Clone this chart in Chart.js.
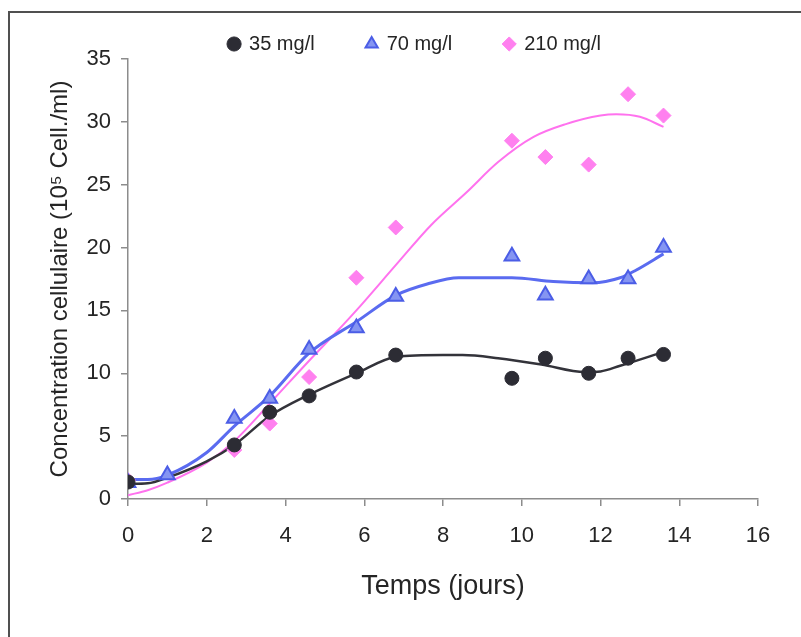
<!DOCTYPE html>
<html>
<head>
<meta charset="utf-8">
<script src="https://cdn.jsdelivr.net/npm/chart.js@4.4.1/dist/chart.umd.min.js"></script>
<style>
html,body{margin:0;padding:0;background:#fff;overflow:hidden}
#wrap{position:relative;width:801px;height:637px}
</style>
</head>
<body>
<div id="wrap"><canvas id="c" width="801" height="637"></canvas></div>
<script>
// ---- data ----
const seriesNames = ['35 mg/l', '70 mg/l', '210 mg/l'];
const days = [0, 2.7, 3.6, 4.6, 5.8, 6.8, 9.75, 10.6, 11.7, 12.7, 13.6];
const conc35 = [1.35, 4.3, 6.9, 8.2, 10.1, 11.45, 9.6, 11.2, 10.0, 11.2, 11.5];
const days70 = [0, 1, 2.7, 3.6, 4.6, 5.8, 6.8, 9.75, 10.6, 11.7, 12.7, 13.6];
const conc70 = [1.3, 1.9, 6.4, 8.0, 11.9, 13.6, 16.1, 19.3, 16.2, 17.5, 17.5, 20.0];
const conc210 = [1.5, 3.9, 6.0, 9.7, 17.6, 21.6, 28.5, 27.2, 26.6, 32.2, 30.5];

// trend curves
const trend35X = [0, 0.5, 1, 2, 2.7, 3.6, 4.6, 5.8, 6.8, 8, 8.5, 9.4, 10.5, 11.6, 12, 12.5, 13.6];
const trend35Y = [1.2, 1.25, 1.7, 3.0, 4.3, 6.6, 8.3, 10.0, 11.3, 11.45, 11.45, 11.2, 10.7, 10.1, 10.15, 10.6, 11.7];
const trend70X = [0, 0.5, 1, 2, 2.7, 3.6, 4.6, 5.8, 6.8, 7.6, 8.4, 9.75, 10.8, 11.8, 12.5, 12.9, 13.6];
const trend70Y = [1.55, 1.55, 1.9, 3.7, 5.8, 8.2, 11.6, 14.1, 16.2, 17.1, 17.6, 17.6, 17.3, 17.2, 17.6, 18.2, 19.5];
const trend210X = [0, 0.5, 1, 2, 2.7, 3.6, 4.6, 5.3, 5.8, 6.8, 7.7, 8.6, 9.4, 10.3, 11.1, 12.0, 12.4, 13.0, 13.6];
const trend210Y = [0.3, 0.7, 1.3, 2.9, 4.6, 7.6, 11.0, 13.3, 15.0, 18.6, 21.8, 24.4, 26.8, 28.8, 29.8, 30.5, 30.6, 30.4, 29.6];

const xTicks = [0, 2, 4, 6, 8, 10, 12, 14, 16];
const yTicks = [0, 5, 10, 15, 20, 25, 30, 35];
const xTitle = 'Temps (jours)';
const yTitle = 'Concentration cellulaire (10\u2075 Cell./ml)';

// ---- helpers ----
const pts = (xs, ys) => xs.map((x, i) => ({x, y: ys[i]}));
const FONT = "'Liberation Sans', Arial, sans-serif";
const TXT = '#252525';
const AX = '#8c8c8c';

const LEGEND_H = 59, LEGEND_DX = 30, LEGEND_DY = -18;
const legendTweak = {
  id: 'legendTweak',
  beforeLayout(chart) {
    const lg = chart.legend;
    if (!lg || lg._tw) return;
    lg._tw = true;
    const fit = lg.fit.bind(lg);
    lg.fit = function () { fit(); this.height = LEGEND_H; };
    const draw = lg.draw.bind(lg);
    lg.draw = function () {
      const t = this.top, l = this.left, r = this.right;
      this.top = t + LEGEND_DY; this.left = l + LEGEND_DX; this.right = r + LEGEND_DX;
      draw();
      this.top = t; this.left = l; this.right = r;
    };
  }
};
const frame = {
  id: 'frame',
  beforeDraw(chart) {
    const c = chart.ctx; c.save();
    c.strokeStyle = '#505050'; c.lineWidth = 2;
    c.strokeRect(9, 12, 850, 700);
    c.restore();
  }
};

new Chart(document.getElementById('c'), {
  type: 'scatter',
  data: {
    datasets: [
      {label: seriesNames[0], data: pts(days, conc35), pointStyle: 'circle', pointRadius: 7,
       backgroundColor: '#2c2c34', borderColor: '#2c2c34', borderWidth: 1, showLine: false},
      {label: seriesNames[1], data: pts(days70, conc70), pointStyle: 'triangle', pointRadius: 8.5,
       backgroundColor: '#8595f2', borderColor: '#4b5de6', borderWidth: 2, showLine: false},
      {label: seriesNames[2], data: pts(days, conc210), pointStyle: 'rectRot', pointRadius: 7.5,
       backgroundColor: '#ff80ef', borderColor: '#ff80ef', borderWidth: 1, showLine: false},
      {label: 'trend35', data: pts(trend35X, trend35Y), showLine: true, pointRadius: 0,
       borderColor: '#33333a', borderWidth: 2.5, cubicInterpolationMode: 'monotone'},
      {label: 'trend70', data: pts(trend70X, trend70Y), showLine: true, pointRadius: 0,
       borderColor: '#5a6bf0', borderWidth: 3, cubicInterpolationMode: 'monotone'},
      {label: 'trend210', data: pts(trend210X, trend210Y), showLine: true, pointRadius: 0,
       borderColor: '#ff72ee', borderWidth: 2, cubicInterpolationMode: 'monotone'}
    ]
  },
  options: {
    responsive: false,
    animation: false,
    devicePixelRatio: 1,
    layout: {padding: {left: 12, right: 43, top: 0, bottom: 8}},
    plugins: {
      tooltip: {enabled: false},
      legend: {
        position: 'top',
        align: 'center',
        labels: {
          usePointStyle: true, boxWidth: 10, boxHeight: 10, padding: 52,
          color: TXT, font: {family: FONT, size: 20},
          filter: (item) => seriesNames.includes(item.text)
        }
      }
    },
    scales: {
      x: {
        type: 'linear', min: 0, max: 16,
        afterBuildTicks: (s) => { s.ticks = xTicks.map(v => ({value: v})); },
        afterFit: (s) => { s.height = 130; },
        ticks: {color: TXT, font: {family: FONT, size: 22}, padding: 17},
        grid: {display: true, drawOnChartArea: false, drawTicks: true, tickLength: 7, color: AX, lineWidth: 1.5},
        border: {display: true, color: AX, width: 1.5},
        title: {display: true, text: xTitle, color: TXT, font: {family: FONT, size: 27}, padding: {top: 4, bottom: 26}}
      },
      y: {
        type: 'linear', min: 0, max: 35,
        afterBuildTicks: (s) => { s.ticks = yTicks.map(v => ({value: v})); },
        afterFit: (s) => { s.width = 116; },
        ticks: {color: TXT, font: {family: FONT, size: 22}, padding: 10},
        grid: {display: true, drawOnChartArea: false, drawTicks: true, tickLength: 7, color: AX, lineWidth: 1.5},
        border: {display: true, color: AX, width: 1.5},
        title: {display: true, text: yTitle, color: TXT, font: {family: FONT, size: 24}, padding: {top: 34, bottom: 4}}
      }
    }
  },
  plugins: [legendTweak, frame]
});
</script>
</body>
</html>
